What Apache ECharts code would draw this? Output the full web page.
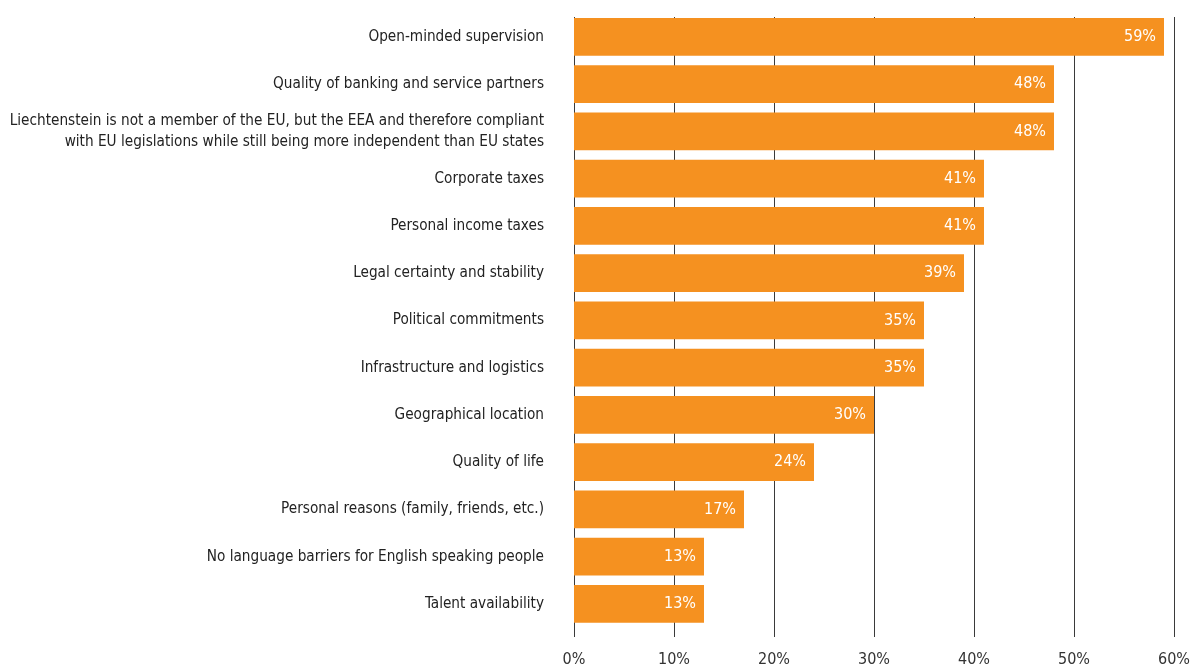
<!DOCTYPE html>
<html>
<head>
<meta charset="utf-8">
<script src="https://cdn.jsdelivr.net/npm/echarts@6/dist/echarts.min.js"></script>
<style>
  html, body { margin: 0; padding: 0; background: #ffffff; }
  #chart { width: 1193px; height: 667px; }
</style>
</head>
<body>
<div id="chart"></div>
<script>
const categories = [
  'Open-minded supervision',
  'Quality of banking and service partners',
  'Liechtenstein is not a member of the EU, but the EEA and therefore compliant\nwith EU legislations while still being more independent than EU states',
  'Corporate taxes',
  'Personal income taxes',
  'Legal certainty and stability',
  'Political commitments',
  'Infrastructure and logistics',
  'Geographical location',
  'Quality of life',
  'Personal reasons (family, friends, etc.)',
  'No language barriers for English speaking people',
  'Talent availability'
];
const shares = [59, 48, 48, 41, 41, 39, 35, 35, 30, 24, 17, 13, 13];
const axisMax = 60;
const axisStep = 10;

const FONT = "'Liberation Sans Narrow', 'Arial Narrow', 'DejaVu Sans Condensed', sans-serif";
const ORANGE = '#F59120';

const chart = echarts.init(document.getElementById('chart'), null, { renderer: 'canvas' });
chart.setOption({
  animation: false,
  backgroundColor: '#ffffff',
  grid: [
    // bars
    { left: 574, width: 600, top: 13.3, height: 614.2, containLabel: false, outerBoundsMode: 'none' },
    // vertical gridlines and percentage scale, behind the bars
    { left: 574, width: 600, top: 17, height: 620, containLabel: false, outerBoundsMode: 'none' }
  ],
  xAxis: [
    {
      gridIndex: 0, type: 'value', min: 0, max: axisMax, interval: axisStep,
      show: false
    },
    {
      gridIndex: 1, type: 'value', min: 0, max: axisMax, interval: axisStep,
      z: 0,
      axisLine: { show: false },
      axisTick: { show: false },
      splitLine: { show: true, lineStyle: { color: '#3a3a3a', width: 1 } },
      axisLabel: {
        formatter: '{value}%', color: '#333', fontSize: 16, fontFamily: FONT, margin: 15
      }
    }
  ],
  yAxis: [
    {
      gridIndex: 0, type: 'category', data: categories, inverse: true,
      axisLine: { show: false },
      axisTick: { show: false },
      splitLine: { show: false },
      axisLabel: {
        color: '#222', fontSize: 15.2, fontFamily: FONT, margin: 30,
        align: 'right', lineHeight: 21
      }
    },
    {
      gridIndex: 1, type: 'value', min: 0, max: 1, show: false
    }
  ],
  series: [
    {
      type: 'bar',
      xAxisIndex: 0, yAxisIndex: 0,
      z: 3,
      data: shares,
      barCategoryGap: '20%',
      itemStyle: { color: ORANGE },
      label: {
        show: true, position: 'insideRight', distance: 8,
        formatter: '{c}%', color: '#ffffff', fontSize: 16, fontFamily: FONT
      }
    }
  ]
});
</script>
</body>
</html>
